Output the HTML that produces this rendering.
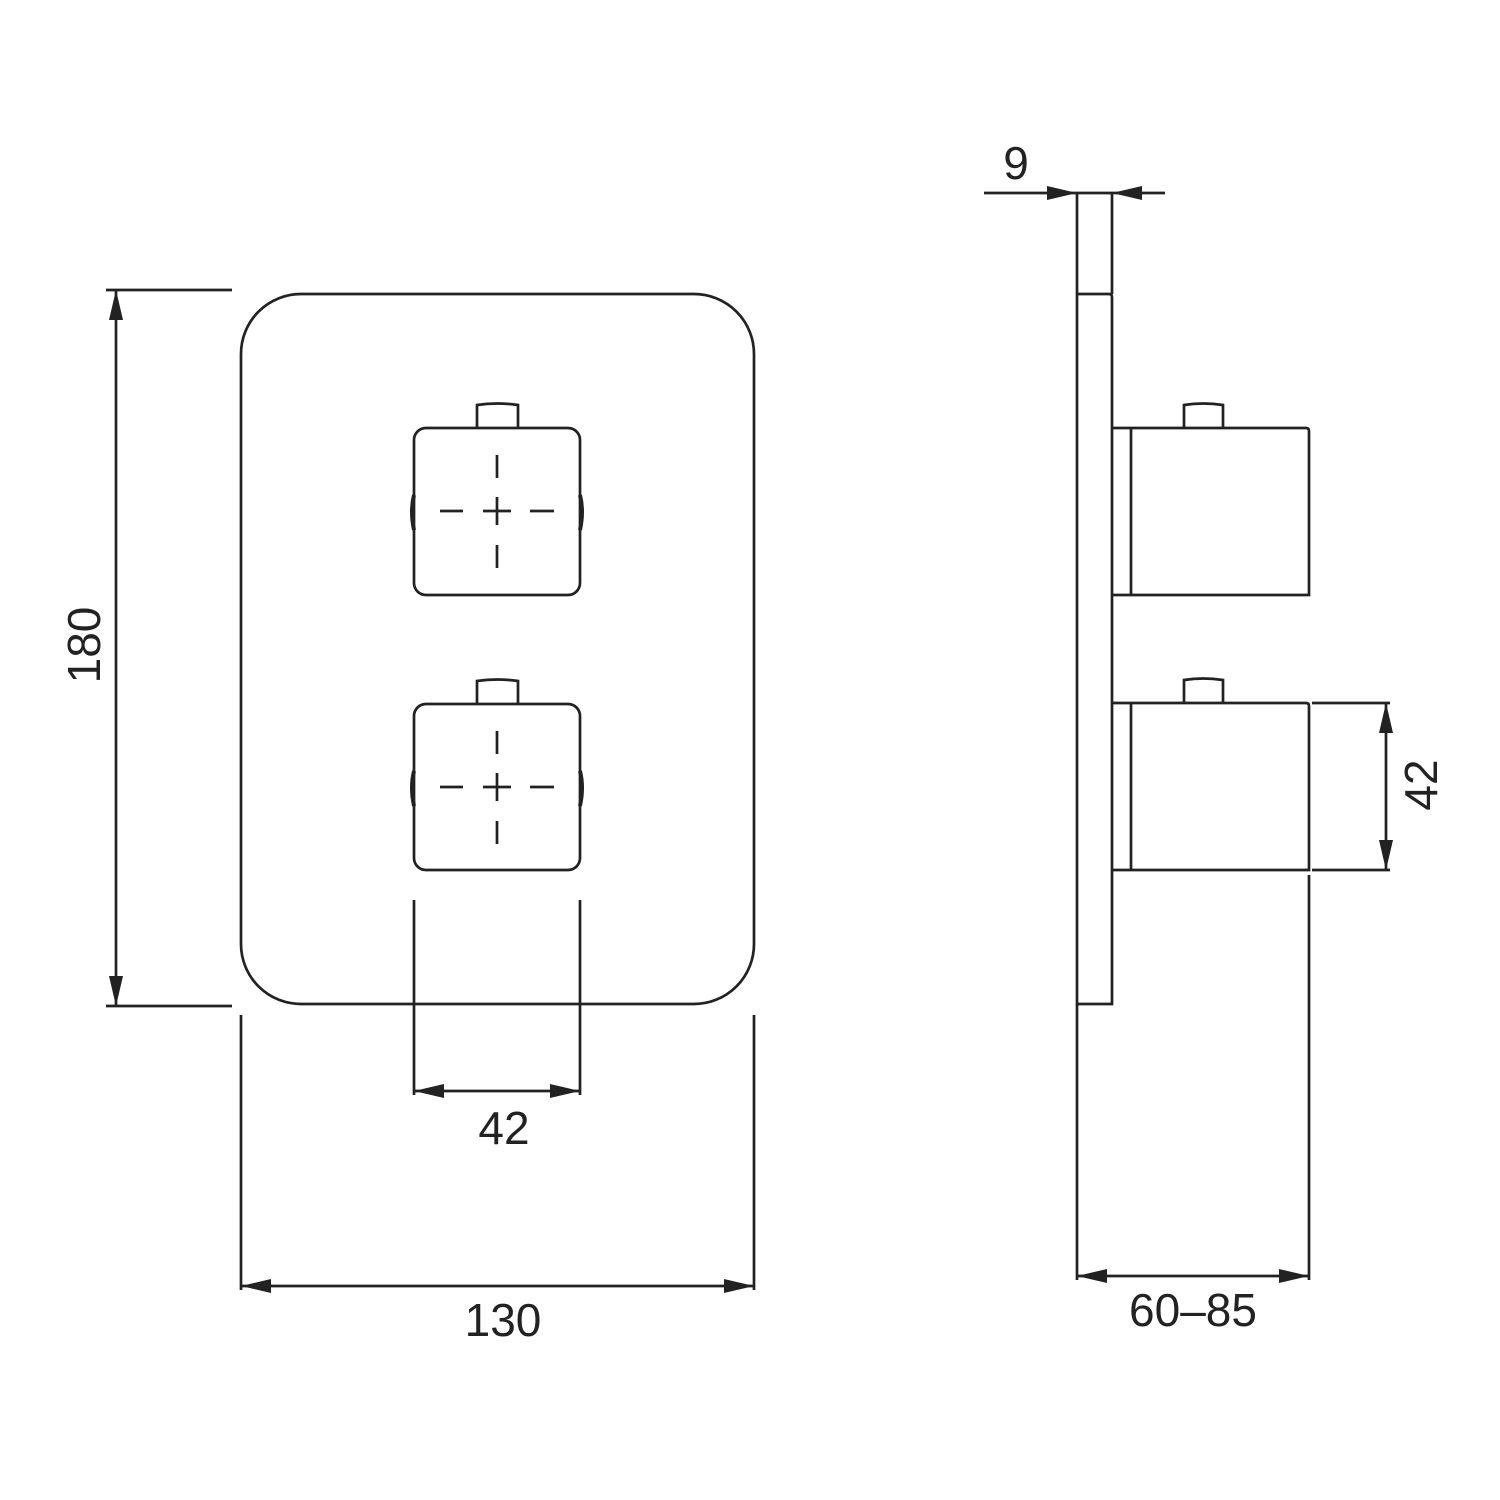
<!DOCTYPE html>
<html><head><style>html,body{margin:0;padding:0;background:#fff}svg{display:block}</style></head>
<body>
<svg width="1500" height="1500" viewBox="0 0 1500 1500" xmlns="http://www.w3.org/2000/svg">
<defs>
<marker id="a" viewBox="0 0 30 14" refX="30" refY="7" markerWidth="30" markerHeight="14" markerUnits="userSpaceOnUse" orient="auto"><path d="M0,0L30,7L0,14z" fill="#222"/></marker>
<marker id="b" viewBox="0 0 30 14" refX="0" refY="7" markerWidth="30" markerHeight="14" markerUnits="userSpaceOnUse" orient="auto"><path d="M30,0L0,7L30,14z" fill="#222"/></marker>
</defs>
<g fill="none" stroke="#222" stroke-width="2.7">
<rect x="241" y="294" width="513" height="710" rx="60"/>
<rect x="414" y="428" width="166" height="167" rx="12"/>
<path d="M477,428V405Q497,402 518,405V428"/>
<path d="M414,495Q410,511 414,530M580,495Q584,511 580,530" stroke-width="4"/>
<path d="M497,455V478M497,497V525M497,545V568M440,511H463M483,511H511M530,511H554"/>
<rect x="414" y="704" width="166" height="166" rx="12"/>
<path d="M477,704V681Q497,678 518,681V704"/>
<path d="M414,771Q410,787 414,806M580,771Q584,787 580,806" stroke-width="4"/>
<path d="M497,731V754M497,773V801M497,821V844M440,787H463M483,787H511M530,787H554"/>
<path d="M414,900V1095M580,900V1095"/>
<line x1="414" y1="1091" x2="580" y2="1091" marker-start="url(#b)" marker-end="url(#a)"/>
<path d="M241,1015V1290M754,1015V1290"/>
<line x1="241" y1="1286" x2="754" y2="1286" marker-start="url(#b)" marker-end="url(#a)"/>
<path d="M106,290H232M106,1006H232"/>
<line x1="116" y1="290" x2="116" y2="1006" marker-start="url(#b)" marker-end="url(#a)"/>
<path d="M1077,192V1004H1112V297Q1112,294 1109,294H1077M1112,192V294"/>
<path d="M1112,428H1306Q1309,428 1309,431V595H1112M1131,428V595"/>
<path d="M1184,428V405Q1203,402 1223,405V428"/>
<path d="M1112,703H1306Q1309,703 1309,706V870H1112M1131,703V870"/>
<path d="M1184,703V680Q1203,677 1223,680V703"/>
<path d="M1312,703H1390M1312,870H1390"/>
<line x1="1386" y1="703" x2="1386" y2="870" marker-start="url(#b)" marker-end="url(#a)"/>
<path d="M1077,1004V1280M1309,875V1280"/>
<line x1="1077" y1="1276" x2="1309" y2="1276" marker-start="url(#b)" marker-end="url(#a)"/>
<line x1="984" y1="193" x2="1077" y2="193" marker-end="url(#a)"/>
<line x1="1165" y1="193" x2="1112" y2="193" marker-end="url(#a)"/>
<line x1="1077" y1="193" x2="1112" y2="193"/>
</g>
<g font-family="Liberation Sans, sans-serif" font-size="46" fill="#222" text-anchor="middle">
<text x="504" y="1144">42</text>
<text x="503" y="1336">130</text>
<text x="1193" y="1326">60–85</text>
<text x="1016" y="179">9</text>
<text transform="translate(100,645) rotate(-90)">180</text>
<text transform="translate(1437,785) rotate(-90)">42</text>
</g>
</svg>
</body></html>
